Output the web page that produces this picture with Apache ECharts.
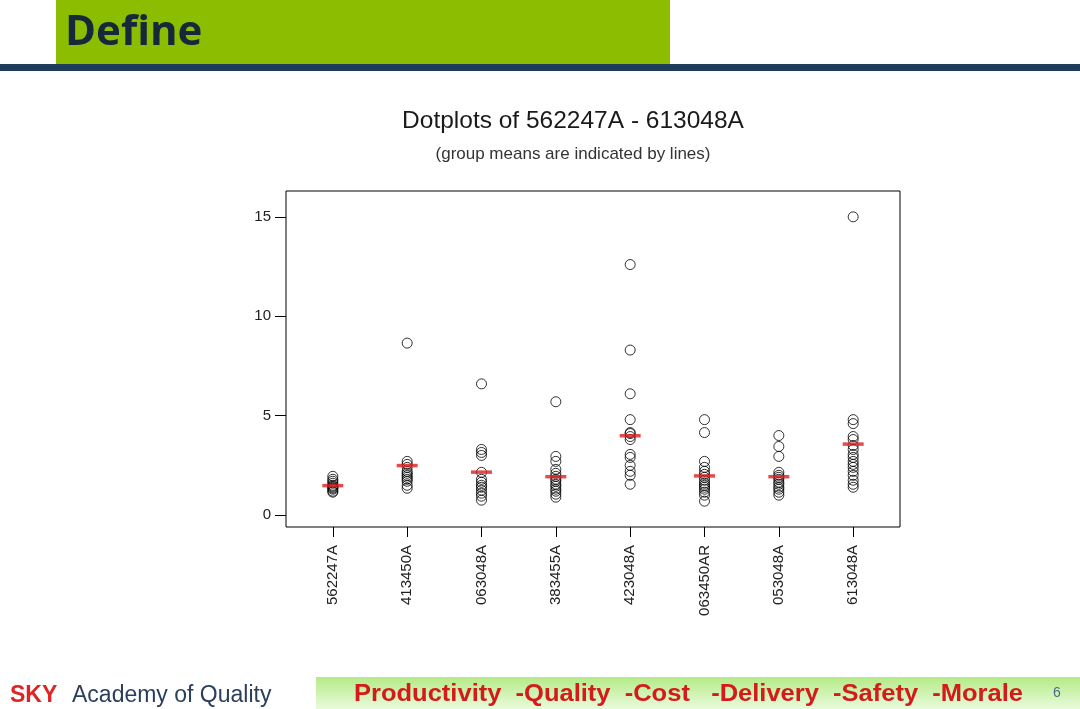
<!DOCTYPE html>
<html>
<head>
<meta charset="utf-8">
<title>Dotplots of 562247A - 613048A</title>
<script src="https://cdn.jsdelivr.net/npm/echarts@6/dist/echarts.min.js"></script>
<style>
    html, body { margin: 0; padding: 0; background: #fff; }
    #main { width: 1080px; height: 709px; }
</style>
</head>
<body>
<div id="main"></div>
<script>
// group names on the x axis
var groups = ['562247A', '413450A', '063048A', '383455A', '423048A', '063450AR', '053048A', '613048A'];

var g562247A = [1.15, 1.2, 1.3, 1.35, 1.4, 1.45, 1.5, 1.6, 1.7, 1.8, 1.95];
var g413450A = [1.35, 1.5, 1.7, 1.8, 1.9, 2.0, 2.1, 2.2, 2.4, 2.55, 2.7, 8.65];
var g063048A = [0.75, 0.95, 1.1, 1.25, 1.4, 1.5, 1.65, 1.8, 2.15, 3.0, 3.15, 3.3, 6.6];
var g383455A = [0.9, 1.05, 1.2, 1.3, 1.45, 1.55, 1.7, 1.8, 1.95, 2.1, 2.3, 2.7, 2.95, 5.7];
var g423048A = [1.55, 2.0, 2.2, 2.5, 2.9, 3.05, 3.8, 3.95, 4.1, 4.15, 4.8, 6.1, 8.3, 12.6];
var g063450AR = [0.7, 1.0, 1.15, 1.3, 1.4, 1.5, 1.6, 1.75, 1.9, 2.05, 2.2, 2.4, 2.7, 4.15, 4.8];
var g053048A = [1.0, 1.15, 1.3, 1.4, 1.55, 1.65, 1.8, 1.9, 2.0, 2.15, 2.95, 3.45, 4.0];
var g613048A = [1.4, 1.55, 1.75, 2.0, 2.2, 2.4, 2.55, 2.7, 2.9, 3.05, 3.3, 3.5, 3.8, 3.95, 4.6, 4.8, 15.0];

// group means (red lines)
var groupMeans = [1.48, 2.49, 2.16, 1.93, 3.99, 1.97, 1.93, 3.57];

var yTicks = [0, 5, 10, 15];

var allGroups = [g562247A, g413450A, g063048A, g383455A, g423048A, g063450AR, g053048A, g613048A];

var dots = [];
allGroups.forEach(function (vals, i) {
    vals.forEach(function (v) {
        dots.push([i, v]);
    });
});
var means = groupMeans.map(function (m, i) {
    return [i, m];
});
var xTicks = groups.map(function (g, i) { return i; });

// the slogan is set in a condensed face in the original: squeeze a bold sans to the same width
var slogan = 'Productivity  -Quality  -Cost   -Delivery  -Safety  -Morale';
var sloganFont = 'bold 23px "Liberation Sans"';
var ctx = document.createElement('canvas').getContext('2d');
ctx.font = sloganFont;
var sloganScale = 669 / ctx.measureText(slogan).width;

var chart = echarts.init(document.getElementById('main'));

var option = {
    backgroundColor: '#fff',
    animation: false,
    title: [{
        text: 'Dotplots of 562247A - 613048A',
        left: 568, top: 104,
        textAlign: 'center',
        textStyle: { fontFamily: 'Liberation Sans', fontSize: 24.5, fontWeight: 'normal', color: '#1a1a1a' }
    }, {
        text: '(group means are indicated by lines)',
        left: 568, top: 141,
        textAlign: 'center',
        textStyle: { fontFamily: 'Liberation Sans', fontSize: 17, fontWeight: 'normal', color: '#333' }
    }],
    grid: {
        left: 286, top: 191, right: 180, bottom: 182,
        show: true, borderColor: '#000', borderWidth: 1, backgroundColor: '#fff'
    },
    xAxis: {
        type: 'value',
        min: -0.63, max: 7.63,
        axisLine: { show: false, onZero: false },
        splitLine: { show: false },
        axisTick: { show: true, length: 10, customValues: xTicks, lineStyle: { color: '#000' } },
        axisLabel: {
            customValues: xTicks,
            rotate: 90, margin: 18,
            fontFamily: 'Liberation Sans', fontSize: 15, color: '#222',
            formatter: function (v) { return groups[Math.round(v)]; }
        }
    },
    yAxis: {
        type: 'value',
        min: -0.6, max: 16.3,
        axisLine: { show: false, onZero: false },
        splitLine: { show: false },
        axisTick: { show: true, length: 11, customValues: yTicks, lineStyle: { color: '#000' } },
        axisLabel: {
            customValues: yTicks,
            margin: 15,
            fontFamily: 'Liberation Sans', fontSize: 15, color: '#222'
        }
    },
    series: [{
        type: 'scatter',
        data: dots,
        symbol: 'circle',
        symbolSize: 10,
        itemStyle: { color: 'rgba(0,0,0,0)', borderColor: '#000', borderWidth: 1 },
        z: 2
    }, {
        type: 'scatter',
        data: means,
        symbol: 'rect',
        symbolSize: [21, 3.5],
        itemStyle: { color: '#d92020' },
        z: 3
    }],
    graphic: [
        // header block
        { type: 'rect', shape: { x: 56, y: 0, width: 614, height: 64 }, style: { fill: '#8dbd00' } },
        { type: 'rect', shape: { x: 0, y: 64, width: 1080, height: 7 }, style: { fill: '#1f3c58' } },
        {
            type: 'text', left: 65, top: 12,
            style: { text: 'Define', font: 'bold 42px "Open Sans"', fill: '#17283a' }
        },
        // footer
        {
            type: 'rect', shape: { x: 316, y: 677, width: 764, height: 32 },
            style: {
                fill: new echarts.graphic.LinearGradient(0, 0, 0, 1, [
                    { offset: 0, color: '#b4ea86' },
                    { offset: 1, color: '#eafbdc' }
                ])
            }
        },
        {
            type: 'text', left: 10, top: 684,
            style: { text: 'SKY', font: 'bold 23px "Liberation Sans"', fill: '#e02424' }
        },
        {
            type: 'text', left: 72, top: 684,
            style: { text: 'Academy of Quality', font: '23px "Liberation Sans"', fill: '#2b3f5c' }
        },
        {
            type: 'text', x: 354, y: 683, scaleX: sloganScale,
            style: { text: slogan, font: sloganFont, fill: '#d41a1a' }
        },
        {
            type: 'text', left: 1053, top: 686,
            style: { text: '6', font: '14px "Liberation Sans"', fill: '#4a6a8a' }
        }
    ]
};

chart.setOption(option);
</script>
</body>
</html>
